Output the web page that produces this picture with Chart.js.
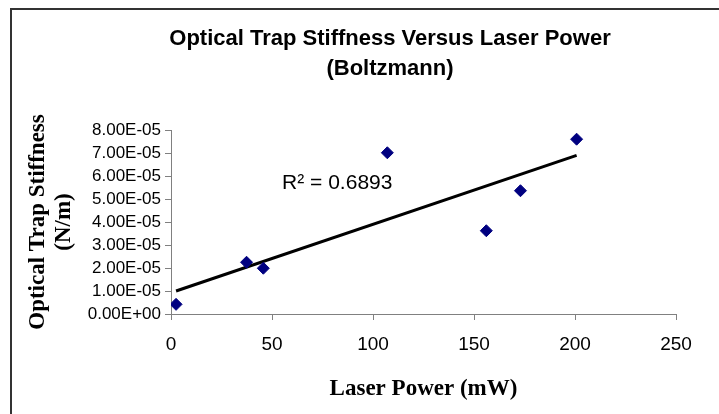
<!DOCTYPE html>
<html>
<head>
<meta charset="utf-8">
<script src="https://cdn.jsdelivr.net/npm/chart.js@4.4.1/dist/chart.umd.min.js"></script>
<style>
  html, body { margin: 0; padding: 0; background: #fff; overflow: hidden; }
  #wrap { position: relative; width: 719px; height: 414px; }
  /* outer chart frame, only its left and top edges fall inside the page */
  #frame { position: absolute; left: 10px; top: 8px; width: 740px; height: 440px;
           border-left: 2px solid #333; border-top: 2px solid #333; pointer-events: none; }
</style>
</head>
<body>
<div id="wrap">
  <canvas id="c" width="719" height="414"></canvas>
  <div id="frame"></div>
</div>
<script>
// measured points: laser power (mW) vs trap stiffness (N/m)
const powerMw   = [2.5, 37.4, 45.7, 107.1, 156.1, 173.0, 200.8];
const stiffness = [0.42e-5, 2.25e-5, 1.99e-5, 7.01e-5, 3.62e-5, 5.36e-5, 7.60e-5];

// linear trendline end points
const trendX = [2.5, 200.8];
const trendY = [1.0e-5, 6.9e-5];

const xTicks = [0, 50, 100, 150, 200, 250];
const yTicks = [0, 1e-5, 2e-5, 3e-5, 4e-5, 5e-5, 6e-5, 7e-5, 8e-5];

const titleLines = ['Optical Trap Stiffness Versus Laser Power', '(Boltzmann)'];
const yTitle = ['Optical Trap Stiffness', '(N/m)'];
const xTitle = 'Laser Power (mW)';
const fitLabel = 'R\u00B2 = 0.6893';

// Excel style "0.00E+00"
function sci(v) {
  if (v === 0) return '0.00E+00';
  const [m, e] = v.toExponential(2).split('e');
  const n = parseInt(e, 10);
  return m + 'E' + (n < 0 ? '-' : '+') + String(Math.abs(n)).padStart(2, '0');
}

const SANS = '"Liberation Sans", Arial, sans-serif';
const SERIF = '"Liberation Serif", "Times New Roman", serif';

// chart title sits over the whole sheet frame, the fit label inside the plot
const textLayer = {
  id: 'textLayer',
  afterDraw(chart) {
    const { ctx, scales: { x, y } } = chart;
    ctx.save();
    ctx.fillStyle = '#000';
    ctx.textAlign = 'center';
    ctx.textBaseline = 'middle';
    ctx.font = 'bold 22px ' + SANS;
    ctx.fillText(titleLines[0], 390, 39);
    ctx.fillText(titleLines[1], 390, 69);

    ctx.textAlign = 'left';
    ctx.font = '21px ' + SANS;
    ctx.fillText(fitLabel, x.getPixelForValue(55), y.getPixelForValue(5.7e-5));
    ctx.restore();
  }
};

const axisGrid = { drawOnChartArea: false, drawTicks: true, tickLength: 6, color: '#808080', lineWidth: 1 };
const axisBorder = { color: '#808080', width: 1 };

new Chart(document.getElementById('c'), {
  type: 'scatter',
  data: {
    datasets: [
      {
        label: 'Stiffness',
        data: powerMw.map((p, i) => ({ x: p, y: stiffness[i] })),
        pointStyle: 'rectRot',
        pointRadius: 6,
        backgroundColor: '#000080',
        borderColor: '#000080',
        borderWidth: 1,
        order: 1
      },
      {
        label: 'Linear fit',
        type: 'line',
        data: trendX.map((p, i) => ({ x: p, y: trendY[i] })),
        borderColor: '#000',
        borderWidth: 3,
        pointRadius: 0,
        fill: false,
        order: 2
      }
    ]
  },
  options: {
    responsive: false,
    animation: false,
    devicePixelRatio: 1,
    layout: { padding: { left: 12, right: 43, top: 130, bottom: 0 } },
    plugins: { legend: { display: false }, tooltip: { enabled: false }, title: { display: false } },
    scales: {
      x: {
        type: 'linear', min: 0, max: 250,
        afterBuildTicks: s => { s.ticks = xTicks.map(v => ({ value: v })); },
        afterFit: s => { s.height = 100; },
        grid: axisGrid,
        border: axisBorder,
        ticks: { color: '#000', font: { family: SANS, size: 19 }, padding: 13, maxRotation: 0, autoSkip: false },
        title: {
          display: true, text: xTitle, color: '#000',
          font: { family: SERIF, size: 23, weight: 'bold', lineHeight: '26px' },
          padding: { top: 0, bottom: 12 }
        }
      },
      y: {
        type: 'linear', min: 0, max: 8e-5,
        afterBuildTicks: s => { s.ticks = yTicks.map(v => ({ value: v })); },
        afterFit: s => { s.width = 159; },
        grid: axisGrid,
        border: axisBorder,
        ticks: { color: '#000', font: { family: SANS, size: 17 }, padding: 4, autoSkip: false, callback: v => sci(v) },
        title: {
          display: true, text: yTitle, color: '#000',
          font: { family: SERIF, size: 23, weight: 'bold', lineHeight: '26px' },
          padding: { top: 13, bottom: 0 }
        }
      }
    }
  },
  plugins: [textLayer]
});
</script>
</body>
</html>
